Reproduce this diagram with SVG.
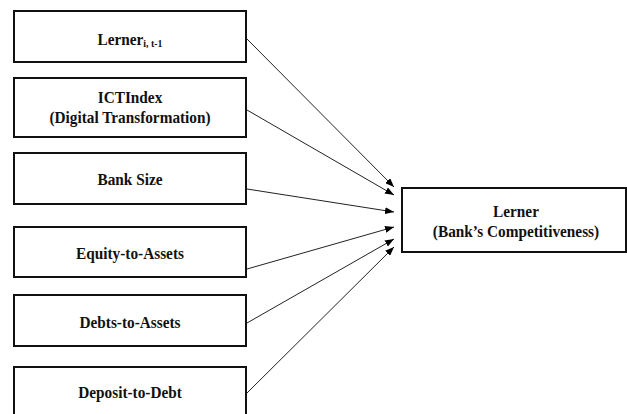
<svg xmlns="http://www.w3.org/2000/svg" width="627" height="414" viewBox="0 0 627 414">
<defs>
<marker id="ah" markerWidth="9" markerHeight="7" refX="9" refY="3.5" orient="auto" markerUnits="userSpaceOnUse">
<path d="M0,0 L9,3.5 L0,7 Z" fill="#000"/>
</marker>
<style>
.box{fill:#fff;stroke:#111;stroke-width:2}
.t{font-family:"Liberation Serif","Times New Roman",serif;font-weight:bold;font-size:17px;fill:#111;text-anchor:middle}
.sub{font-size:11px}
.c{stroke:#222;stroke-width:1;fill:none;marker-end:url(#ah)}
</style>
</defs>
<rect width="627" height="414" fill="#fff"/>
<g id="n1"><rect class="box" x="14" y="11" width="232" height="51"/><text class="t" transform="translate(130 45) scale(0.9 1)">Lerner<tspan class="sub" dy="2">i, t-1</tspan></text></g>
<g id="n2"><rect class="box" x="14" y="78" width="232" height="59"/><text class="t" transform="translate(130 103) scale(0.9 1)">ICTIndex</text><text class="t" transform="translate(130 123) scale(0.9 1)">(Digital Transformation)</text></g>
<g id="n3"><rect class="box" x="14" y="153" width="232" height="51"/><text class="t" transform="translate(130 185) scale(0.9 1)">Bank Size</text></g>
<g id="n4"><rect class="box" x="14" y="227" width="232" height="50"/><text class="t" transform="translate(130 259) scale(0.9 1)">Equity-to-Assets</text></g>
<g id="n5"><rect class="box" x="14" y="295" width="232" height="51"/><text class="t" transform="translate(130 328) scale(0.9 1)">Debts-to-Assets</text></g>
<g id="n6"><rect class="box" x="14" y="367" width="232" height="60"/><text class="t" transform="translate(130 398) scale(0.9 1)">Deposit-to-Debt</text></g>
<g id="n7"><rect class="box" x="402" y="188" width="224" height="64"/><text class="t" transform="translate(516 217) scale(0.9 1)">Lerner</text><text class="t" transform="translate(516 237) scale(0.9 1)">(Bank’s Competitiveness)</text></g>
<g id="connectors">
<line class="c" x1="247" y1="39" x2="394" y2="187"/>
<line class="c" x1="247" y1="110" x2="394" y2="195"/>
<line class="c" x1="247" y1="189" x2="394" y2="212"/>
<line class="c" x1="247" y1="269" x2="394" y2="227"/>
<line class="c" x1="247" y1="323" x2="394" y2="239"/>
<line class="c" x1="247" y1="393" x2="394" y2="247"/>
</g>
</svg>
